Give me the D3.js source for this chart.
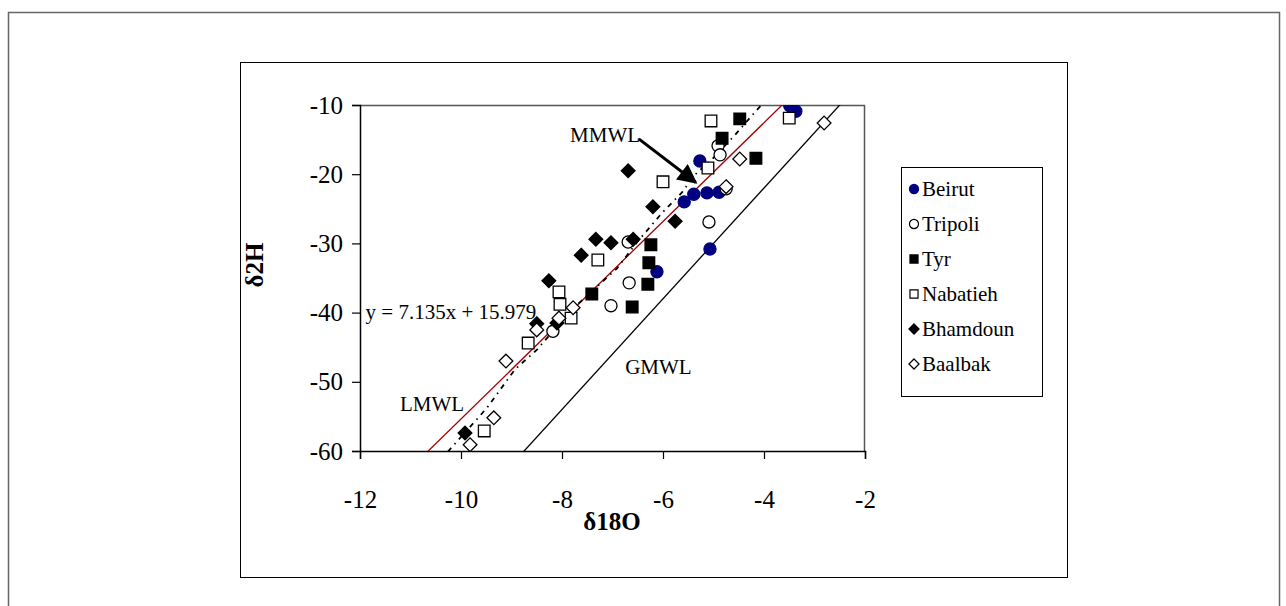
<!DOCTYPE html>
<html>
<head>
<meta charset="utf-8">
<script src="https://cdn.jsdelivr.net/npm/d3@7"></script>
<style>
  body { margin: 0; background: #fff; }
  svg text { font-family: "Liberation Serif", "Times New Roman", serif; }
</style>
</head>
<body>
<svg id="chart" width="1286" height="606"></svg>
<script>
// data (d18O, d2H)
var beirut = [[-3.49,-10.1],[-3.37,-10.9],[-5.27,-18.1],[-5.39,-22.9],[-5.13,-22.7],[-4.89,-22.6],[-5.58,-24.0],[-6.12,-34.1],[-5.07,-30.8]];
var tripoli = [[-4.91,-15.9],[-4.87,-17.2],[-4.75,-22.1],[-5.09,-26.9],[-6.69,-29.8],[-6.67,-35.7],[-7.03,-39.0],[-8.18,-42.7]];
var tyr = [[-4.48,-12.0],[-4.83,-14.8],[-4.16,-17.7],[-6.24,-30.2],[-6.28,-32.8],[-6.30,-35.9],[-6.61,-39.2],[-7.41,-37.3]];
var nabatieh = [[-5.05,-12.3],[-3.50,-11.9],[-5.11,-19.1],[-6.0,-21.1],[-7.29,-32.4],[-8.06,-37.0],[-8.04,-38.8],[-7.82,-40.8],[-8.67,-44.4],[-9.54,-57.1]];
var bhamdoun = [[-6.69,-19.5],[-6.20,-24.7],[-5.76,-26.8],[-7.33,-29.4],[-7.03,-29.9],[-6.59,-29.4],[-7.62,-31.7],[-8.26,-35.4],[-8.50,-41.6],[-8.10,-41.5],[-9.92,-57.4]];
var baalbak = [[-2.81,-12.6],[-4.48,-17.8],[-4.75,-21.8],[-7.78,-39.3],[-8.06,-40.8],[-8.50,-42.5],[-9.11,-47.0],[-9.35,-55.2],[-9.82,-59.1]];

// trend of the local data (dashed)
var mmwl = [[-10.26,-60.1],[-9.49,-53.8],[-8.93,-48.2],[-8.50,-45.4],[-8.04,-41.5],[-7.66,-38.6],[-6.91,-33.6],[-6.51,-29.8],[-6.02,-25.6],[-5.62,-22.6],[-5.37,-20.1],[-5.01,-17.7],[-4.57,-14.3],[-4.14,-10.7],[-4.05,-10.0]];
var lmwl = {slope: 7.135, intercept: 15.979};
var gmwl = {slope: 8, intercept: 10};

var xTicks = [-12,-10,-8,-6,-4,-2];
var yTicks = [-60,-50,-40,-30,-20,-10];

var series = [
  {name: "Beirut", data: beirut, shape: "circle", fill: "#000080"},
  {name: "Tripoli", data: tripoli, shape: "circle", fill: "#fff"},
  {name: "Tyr", data: tyr, shape: "square", fill: "#000"},
  {name: "Nabatieh", data: nabatieh, shape: "square", fill: "#fff"},
  {name: "Bhamdoun", data: bhamdoun, shape: "diamond", fill: "#000"},
  {name: "Baalbak", data: baalbak, shape: "diamond", fill: "#fff"}
];

var svg = d3.select("#chart");

// outer frame and chart frame
svg.append("rect").attr("x",8.5).attr("y",12.5).attr("width",1271).attr("height",600)
  .attr("fill","none").attr("stroke","#666").attr("stroke-width",1.5);
svg.append("rect").attr("x",240.5).attr("y",62.5).attr("width",827).attr("height",515)
  .attr("fill","none").attr("stroke","#000");

var x = d3.scaleLinear().domain([-12,-2]).range([360,865]);
var y = d3.scaleLinear().domain([-60,-10]).range([451,105]);

svg.append("clipPath").attr("id","plotclip").append("rect")
  .attr("x",360).attr("y",105).attr("width",505).attr("height",346);

// plot area border (top / right)
svg.append("path").attr("d","M360,105.5H864.5V451").attr("fill","none").attr("stroke","#555").attr("stroke-width",1.5);

var xAxis = svg.append("g").attr("transform","translate(0,451)")
  .call(d3.axisBottom(x).tickValues(xTicks).tickSize(8).tickPadding(31));
var yAxis = svg.append("g").attr("transform","translate(360,0)")
  .call(d3.axisLeft(y).tickValues(yTicks).tickSize(8).tickPadding(9));
[xAxis, yAxis].forEach(function(a) {
  a.attr("font-size",null).attr("font-family",null);
  a.select(".domain").attr("stroke","#000").attr("stroke-width",1.5);
  a.selectAll(".tick line").attr("stroke","#000").attr("stroke-width",1.2);
  a.selectAll(".tick text").attr("fill","#000").style("font-size","25px")
    .text(function(d) { return String(d); });
});

// axis titles
svg.append("text").attr("x",612).attr("y",530).attr("text-anchor","middle")
  .style("font-size","25px").attr("font-weight","bold").text("δ18O");
svg.append("text").attr("transform","translate(263,265) rotate(-90)").attr("text-anchor","middle")
  .style("font-size","25px").attr("font-weight","bold").text("δ2H");

var plot = svg.append("g").attr("clip-path","url(#plotclip)");

var lineFn = function(m) {
  return [[-12, m.slope*-12 + m.intercept],[-2, m.slope*-2 + m.intercept]];
};
var line = d3.line().x(function(d){return x(d[0]);}).y(function(d){return y(d[1]);});

plot.append("path").attr("d",line(lineFn(gmwl))).attr("fill","none").attr("stroke","#000").attr("stroke-width",1.3);
plot.append("path").attr("d",line(lineFn(lmwl))).attr("fill","none").attr("stroke","#a00000").attr("stroke-width",1.3);
plot.append("path").attr("d",line(mmwl)).attr("fill","none").attr("stroke","#000")
  .attr("stroke-width",1.8).attr("stroke-dasharray","5,5,1.5,5");

// markers
var symbolFor = function(shape, size) {
  if (shape == "circle") return d3.symbol().type(d3.symbolCircle).size(size || 115)();
  if (shape == "square") return d3.symbol().type(d3.symbolSquare).size(size || 135)();
  return d3.symbol().type(d3.symbolDiamond2).size(size || 120)();
};

series.forEach(function(s) {
  plot.append("g").selectAll("path").data(s.data).enter().append("path")
    .attr("transform", function(d) { return "translate(" + x(d[0]) + "," + y(d[1]) + ")"; })
    .attr("d", symbolFor(s.shape))
    .attr("fill", s.fill)
    .attr("stroke", s.fill == "#fff" ? "#000" : s.fill)
    .attr("stroke-width", 1.3);
});

// line labels
var labels = [
  {text: "MMWL", x: -7.84, y: -15.4},
  {text: "y = 7.135x + 15.979", x: -11.89, y: -40.9},
  {text: "LMWL", x: -11.21, y: -54.2},
  {text: "GMWL", x: -6.75, y: -48.9}
];
svg.append("g").selectAll("text").data(labels).enter().append("text")
  .attr("x", function(d){return x(d.x);}).attr("y", function(d){return y(d.y);})
  .style("font-size","21px").attr("fill","#000").text(function(d){return d.text;});

// arrow pointing at MMWL
svg.append("defs").append("marker").attr("id","head").attr("viewBox","0 0 10 10")
  .attr("refX",9).attr("refY",5).attr("markerWidth",7).attr("markerHeight",6.5).attr("orient","auto")
  .attr("markerUnits","strokeWidth")
  .append("path").attr("d","M0,0L10,5L0,10Z").attr("fill","#000");
svg.append("line").attr("x1",x(-6.48)).attr("y1",y(-14.9)).attr("x2",x(-5.35)).attr("y2",y(-21.2))
  .attr("stroke","#000").attr("stroke-width",3).attr("marker-end","url(#head)");

// legend
var legend = svg.append("g");
legend.append("rect").attr("x",901.5).attr("y",167.5).attr("width",141).attr("height",229)
  .attr("fill","#fff").attr("stroke","#000");
var item = legend.selectAll("g.item").data(series).enter().append("g").attr("class","item")
  .attr("transform", function(d,i){ return "translate(914," + (189 + i*35) + ")"; });
item.append("path").attr("d", function(d){ return symbolFor(d.shape, 65); })
  .attr("fill", function(d){return d.fill;})
  .attr("stroke", function(d){return d.fill == "#fff" ? "#000" : d.fill;}).attr("stroke-width",1.2);
item.append("text").attr("x",8).attr("y",7).style("font-size","21px").text(function(d){return d.name;});
</script>
</body>
</html>
